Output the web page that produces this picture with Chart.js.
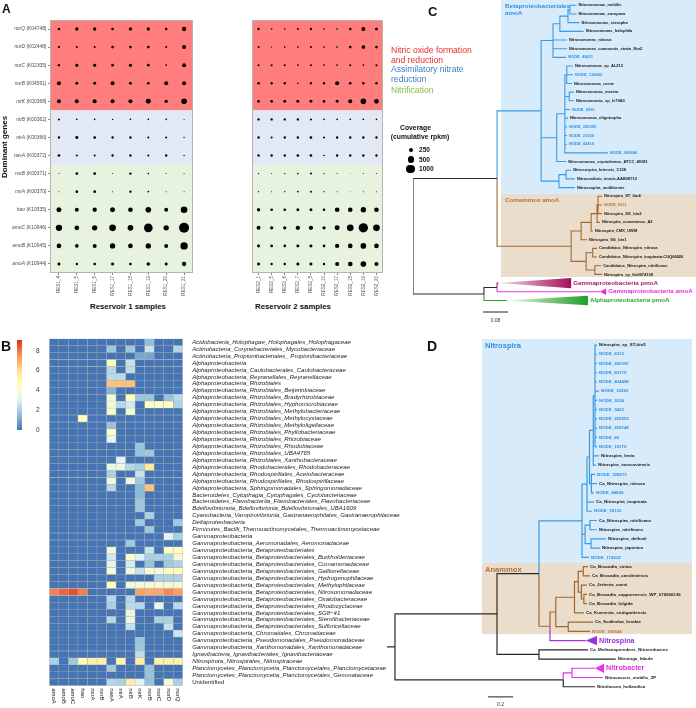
<!DOCTYPE html>
<html>
<head>
<meta charset="utf-8">
<title>Nitrogen cycling genes</title>
<script src="https://cdn.jsdelivr.net/npm/chart.js@4.4.1/dist/chart.umd.min.js"></script>
<style>
  html, body { margin: 0; background: #fff; }
  #fig { position: relative; width: 696px; height: 708px; overflow: hidden; font-family: "Liberation Sans", Arial, sans-serif; }
  #fig canvas { position: absolute; }
  .t { position: absolute; white-space: nowrap; line-height: 1; transform: translateY(-50%); color: #111; }
  .b { font-weight: bold; }
  .dot { position: absolute; background: #000; border-radius: 50%; }
</style>
</head>
<body>
<div id="fig">
  <canvas id="a1" width="198" height="300" style="left:0;top:0"></canvas>
  <canvas id="a2" width="192" height="300" style="left:198px;top:0"></canvas>
  <canvas id="heat" width="420" height="378" style="left:0;top:330px"></canvas>
  <canvas id="cbar" width="30" height="110" style="left:10px;top:330px"></canvas>
  <canvas id="treeC" width="296" height="330" style="left:400px;top:0"></canvas>
  <canvas id="treeD" width="316" height="378" style="left:380px;top:330px"></canvas>

  <div class="t b" style="left:2px;top:9px;font-size:12px">A</div>
  <div class="t b" style="left:1px;top:346px;font-size:14px">B</div>
  <div class="t b" style="left:428px;top:11px;font-size:13px">C</div>
  <div class="t b" style="left:427px;top:346px;font-size:14px">D</div>

  <div class="t b" style="left:5px;top:147px;font-size:8px;transform:translate(-50%,-50%) rotate(-90deg)">Dominant genes</div>
  <div class="t b" style="left:128px;top:307px;font-size:7.8px;transform:translate(-50%,-50%)">Reservoir 1 samples</div>
  <div class="t b" style="left:293px;top:307px;font-size:7.8px;transform:translate(-50%,-50%)">Reservoir 2 samples</div>

  <div class="t" style="left:391px;top:56px;font-size:8.6px;line-height:9.7px;color:#ee2b2b">Nitric oxide formation<br>and reduction</div>
  <div class="t" style="left:391px;top:75px;font-size:8.6px;line-height:9.7px;color:#3b7dc6">Assimilatory nitrate<br>reduction</div>
  <div class="t" style="left:391px;top:89.5px;font-size:8.6px;color:#86c241">Nitrification</div>

  <div class="t b" style="left:415.5px;top:128px;font-size:6.8px;transform:translate(-50%,-50%)">Coverage</div>
  <div class="t b" style="left:420px;top:137px;font-size:6.8px;transform:translate(-50%,-50%)">(cumulative rpkm)</div>
  <div id="covLegend"></div>
</div>
<script>
// ---- Panel A: dominant N-cycle genes, coverage per sample
const genes = ['norQ', 'norD', 'norC', 'norB', 'nirK', 'nirB', 'nirA', 'nasA', 'nxrB', 'nxrA', 'hao', 'amoC', 'amoB', 'amoA']
const keggIds = ['K04748', 'K02448', 'K02305', 'K04561', 'K00368', 'K00362', 'K00366', 'K00372', 'K00371', 'K00370', 'K10535', 'K10946', 'K10945', 'K10944']
const res1Samples = ['RES1_4', 'RES1_5', 'RES1_6', 'RES1_17', 'RES1_18', 'RES1_19', 'RES1_20', 'RES1_21']
const res2Samples = ['RES2_1', 'RES2_5', 'RES2_6', 'RES2_7', 'RES2_8', 'RES2_10', 'RES2_17', 'RES2_18', 'RES2_19', 'RES2_20']
// cumulative rpkm, one row per gene (same order as genes)
const res1Coverage = [
  [97, 152, 152, 97, 152, 152, 75, 257],
  [75, 55, 55, 97, 97, 97, 55, 219],
  [75, 123, 123, 97, 123, 97, 38, 219],
  [219, 123, 123, 219, 123, 97, 219, 219],
  [219, 219, 219, 219, 219, 342, 152, 439],
  [55, 38, 38, 24, 38, 38, 38, 14],
  [75, 123, 97, 75, 75, 55, 55, 24],
  [97, 55, 55, 75, 75, 55, 75, 24],
  [14, 97, 97, 14, 75, 38, 14, 14],
  [14, 97, 97, 14, 75, 38, 14, 14],
  [342, 219, 257, 342, 298, 439, 219, 608],
  [549, 298, 389, 608, 439, 1028, 389, 1368],
  [298, 184, 219, 389, 298, 389, 219, 736],
  [123, 75, 97, 123, 97, 184, 123, 257]
]
const res2Coverage = [
  [75, 38, 38, 55, 75, 38, 38, 75, 219, 123],
  [55, 24, 38, 38, 55, 38, 38, 97, 184, 97],
  [55, 55, 55, 38, 55, 38, 38, 55, 38, 55],
  [97, 75, 75, 38, 75, 75, 219, 97, 75, 75],
  [97, 97, 123, 123, 123, 97, 123, 219, 439, 298],
  [75, 75, 75, 75, 55, 38, 38, 38, 38, 38],
  [75, 55, 75, 75, 97, 55, 75, 75, 75, 75],
  [75, 75, 75, 97, 97, 38, 75, 75, 75, 75],
  [24, 14, 24, 38, 55, 24, 14, 6, 14, 14],
  [24, 14, 24, 38, 55, 24, 14, 6, 14, 14],
  [152, 97, 97, 123, 123, 97, 298, 298, 389, 298],
  [219, 152, 152, 257, 257, 152, 342, 608, 1190, 608],
  [123, 97, 97, 123, 123, 97, 257, 298, 439, 298],
  [123, 75, 75, 123, 123, 75, 219, 298, 439, 219]
]
const geneGroups = [
  { from: 0, to: 4, fill: '#ff7d7d' },
  { from: 5, to: 7, fill: '#e3e8f5' },
  { from: 8, to: 13, fill: '#e7f2df' }
]
const legendCoverage = [250, 500, 1000]

// ---- Panel B: heatmap of gene abundance per taxon
const genesB = ['amoA', 'amoB', 'amoC', 'hao', 'nxrA', 'nxrB', 'nasA', 'nirA', 'nirB', 'nirK', 'norB', 'norC', 'norD', 'norQ']
const taxa = [
  'Acidobacteria_Holophagae_Holophagales_Holophagaceae',
  'Actinobacteria_Corynebacteriales_Mycobacteriaceae',
  'Actinobacteria_Propionibacteriales_ Propionibacteriaceae',
  'Alphaproteobacteria',
  'Alphaproteobacteria_Caulobacterales_Caulobacteraceae',
  'Alphaproteobacteria_Reyranellales_Reyranellaceae',
  'Alphaproteobacteria_Rhizobiales',
  'Alphaproteobacteria_Rhizobiales_Beijerinkiaceae',
  'Alphaproteobacteria_Rhizobiales_Bradyrhizobiaceae',
  'Alphaproteobacteria_Rhizobiales_Hyphomicrobiaceae',
  'Alphaproteobacteria_Rhizobiales_Methylobacteriaceae',
  'Alphaproteobacteria_Rhizobiales_Methylocystaceae',
  'Alphaproteobacteria_Rhizobiales_Methyloligellaceae',
  'Alphaproteobacteria_Rhizobiales_Phyllobacteriaceae',
  'Alphaproteobacteria_Rhizobiales_Rhizobiaceae',
  'Alphaproteobacteria_Rhizobiales_Rhodobiaceae',
  'Alphaproteobacteria_Rhizobiales_UBA4765',
  'Alphaproteobacteria_Rhizobiales_Xanthobacteraceae',
  'Alphaproteobacteria_Rhodobacterales_Rhodobacteraceae',
  'Alphaproteobacteria_Rhodospirillales_Acetobacteraceae',
  'Alphaproteobacteria_Rhodospirillales_Rhodospirillaceae',
  'Alphaproteobacteria_Sphingomonadales_Sphingomonadaceae',
  'Bacteroidetes_Cytophagia_Cytophagales_Cyclobacteriaceae',
  'Bacteroidetes_Flavobacteriia_Flavobacteriales_Flavobacteriaceae',
  'Bdellovibrionota_Bdellovibrionia_Bdellovibrionales_UBA1609',
  'Cyanobacteria_Vampirovibrionia_Gastranaerophilales_Gastranaerophilaceae',
  'Deltaproteobacteria',
  'Firmicutes_Bacilli_Thermoactinomycetales_Thermoactinomycetaceae',
  'Gammaproteobacteria',
  'Gammaproteobacteria_Aeromonadales_Aeromonadaceae',
  'Gammaproteobacteria_Betaproteobacteriales',
  'Gammaproteobacteria_Betaproteobacteriales_Burkholderiaceae',
  'Gammaproteobacteria_Betaproteobacteriales_Comamonadaceae',
  'Gammaproteobacteria_Betaproteobacteriales_Gallionellaceae',
  'Gammaproteobacteria_Betaproteobacteriales_Hydrogenophilaceae',
  'Gammaproteobacteria_Betaproteobacteriales_Methylophilaceae',
  'Gammaproteobacteria_Betaproteobacteriales_Nitrosomonadaceae',
  'Gammaproteobacteria_Betaproteobacteriales_Oxalobacteraceae',
  'Gammaproteobacteria_Betaproteobacteriales_Rhodocyclaceae',
  'Gammaproteobacteria_Betaproteobacteriales_SG8\u221241',
  'Gammaproteobacteria_Betaproteobacteriales_Sterolibacteriaceae',
  'Gammaproteobacteria_Betaproteobacteriales_Sulfuricellaceae',
  'Gammaproteobacteria_Chromatiales_Chromatiaceae',
  'Gammaproteobacteria_Pseudomonadales_Pseudomonadaceae',
  'Gammaproteobacteria_Xanthomonadales_Xanthomonadaceae',
  'Ignavibacteria_Ignavibacteriales_Ignavibacteriaceae',
  'Nitrospirota_Nitrospirales_Nitrospiraceae',
  'Planctomycetes_Planctomycetia_Planctomycetales_Planctomycetaceae',
  'Planctomycetes_Planctomycetia_Planctomycetales_Gemmataceae',
  'Unidentified'
]
// one row per taxon, columns in genesB order
const heat = [
  [0,0,0,0,0,0,0,0,0,0,1.5,0,0,0],
  [0,0,0,0,0,0,1.8,0,1.8,0,2.6,0,0,2.2],
  [0,0,0,0,0,0,0,0,0,1.0,1.0,0,0,0],
  [0,0,0,0,0,0,4.7,0,2.5,0,0,0,0,0],
  [0,0,0,0,0,0,2.2,0,2.4,0,0,0,0,0],
  [0,0,0,0,0,0,2.3,2.3,0,0,0,0,0,0],
  [0,0,0,0,0,0,6.6,6.6,6.6,0,0,0,0,0],
  [0,0,0,0,0,0,1.3,0,0,0,0,0,0,0],
  [0,0,0,0,0,0,3.9,0,4.6,1.7,1.7,0,1.6,2.3],
  [0,0,0,0,0,0,3.8,2.2,2.7,0,4.4,4.4,4.6,2.1],
  [0,0,0,0,0,0,4.3,0,4.1,0,0,0,0,0],
  [0,0,0,4.6,0,0,0,0,0,0,0,0,0,0],
  [0,0,0,0,0,0,1.6,0,0,0,0,0,0,0],
  [0,0,0,0,0,0,4.4,0,0,0,0,0,0,0],
  [0,0,0,0,0,0,3.2,0,0,0,0,0,0,0],
  [0,0,0,0,0,0,0,0,0,1.7,0,0,0,0],
  [0,0,0,0,0,0,0,0,0,1.6,1.8,0,0,0],
  [0,0,0,0,0,0,0,3.1,0,0,0,0,0,0],
  [0,0,0,0,0,0,3.6,3.6,2.2,2.0,5.6,0,0,0],
  [0,0,0,0,0,0,2.0,0,0,2.5,0,0,0,0],
  [0,0,0,0,0,0,3.8,0,3.8,1.8,0,0,0,0],
  [0,0,0,0,0,0,2.2,0,0,1.4,6.6,0,0,0],
  [0,0,0,0,0,0,0,0,0,1.4,0,0,0,0],
  [0,0,0,0,0,0,0,0,0,1.8,0,0,0,0],
  [0,0,0,0,0,0,0,0,0,1.8,0,0,0,0],
  [0,0,0,0,0,0,0,0,0,0,2.0,0,0,0],
  [0,0,0,0,0,0,0,0,0,1.8,0,0,0,1.8],
  [0,0,0,0,0,0,0,0,0,0,1.8,0,0,0],
  [0,0,0,0,0,0,0,0,0,0,0,0,3.0,2.0],
  [0,0,0,0,0,0,0,0,1.8,0,0,0,0,0],
  [0,0,0,0,0,0,3.8,0,0,0,2.5,0,4.5,4.5],
  [0,0,0,0,0,0,2.7,0,4.3,3.0,2.0,2.0,2.0,4.0],
  [0,0,0,0,0,0,3.2,0,2.8,0,1.6,0,1.8,2.0],
  [0,0,0,0,0,0,4.2,0,3.7,2.5,4.0,3.8,4.3,4.6],
  [0,0,0,0,0,0,0,0,0,0,0,2.0,2.0,2.0],
  [0,0,0,0,0,0,4.6,0,3.7,4.0,4.0,4.2,3.8,4.2],
  [7.8,8.2,8.6,7.9,0,0,0,0,0,7.2,7.1,7.1,7.7,7.3],
  [0,0,0,0,0,0,2.2,0,2.2,0,0,0,0,0],
  [0,0,0,0,0,0,2.0,0,2.3,2.2,0,3.2,0,2.3],
  [0,0,0,0,0,0,0,0,3.7,0,0,0,0,0],
  [0,0,0,0,0,0,2.2,0,3.5,0,0,2.0,2.0,0],
  [0,0,0,0,0,0,0,0,2.5,0,0,0,2.5,0],
  [0,0,0,0,0,0,0,0,0,0,0,0,0,2.6],
  [0,0,0,0,0,0,0,0,0,1.7,0,0,0,0],
  [0,0,0,0,0,0,0,0,0,1.8,0,0,0,0],
  [0,0,0,0,0,0,0,0,0,2.4,0,0,0,0],
  [2.0,0,1.8,4.8,5.3,5.3,0,5.0,0,5.3,0,5.3,5.3,5.2],
  [0,0,0,0,0,0,1.8,0,0,0,1.6,0,0,0],
  [0,0,0,0,0,0,0,0,0,0,1.6,0,0,0],
  [0,0,0,0,0,0,2.2,2.0,5.5,3.0,1.6,0,4.0,2.0]
]
const heatStops = ['#4575b4', '#91bfdb', '#e0f3f8', '#ffffbf', '#fee090', '#fc8d59', '#d73027']
const heatMax = 9.1
const heatTicks = [0, 2, 4, 6, 8]

// ---- Panels C, D: trees. N(depth, branchColour, ...children), L(depth, name, branchColour, labelColour, collapsed)
// depth is distance from the root in units of 0.01 substitutions
const N = (d, col, ...c) => ({ d, col, c })
const L = (d, name, col = 'k', lab = 'k', tri = null) => ({ d, name, col, lab, tri })

const treeC = N(0, 'k',
  N(26.9, 'k',
    N(41, 'b',
      N(44.8, 'b',
        N(47, 'b',
          N(49.6, 'b',
            N(50.2, 'b', L(52.3, 'Nitrosomonas_mobilis', 'b'), L(52.3, 'Nitrosomonas_europaea', 'b')),
            L(53.3, 'Nitrosomonas_eutropha', 'b')),
          L(54.6, 'Nitrosomonas_halophila', 'b')),
        L(49.3, 'Nitrosomonas_nitrosa', 'b'),
        L(49.3, 'Nitrosomonas_communis_strain_Nm2', 'b'),
        L(49, 'NODE_49621', 'b', 'b')),
      N(46, 'b',
        N(48.6, 'b',
          N(49.2, 'b', L(51.2, 'Nitrosomonas_sp_AL212', 'b'), L(51.2, 'NODE_139662', 'b', 'b'), L(50.9, 'Nitrosomonas_ureae', 'b')),
          N(50, 'b', L(51.5, 'Nitrosomonas_marina', 'b'), L(51.5, 'Nitrosomonas_sp_Is79A3', 'b')),
          L(50.2, 'NODE_6910', 'b', 'b'),
          L(49.6, 'Nitrosomonas_oligotropha', 'b'),
          L(49.3, 'NODE_200390', 'b', 'b'),
          L(49.3, 'NODE_21034', 'b', 'b'),
          L(49.3, 'NODE_43416', 'b', 'b'),
          L(62.4, 'NODE_260686', 'b', 'b')),
        L(49, 'Nitrosomonas_cryotolerans_ATCC_49181', 'b')),
      N(46.7, 'b',
        N(49, 'b', L(50.6, 'Nitrosospira_briensis_C128', 'b'), L(51.8, 'Nitrosovibrio_tenuis-AAB38710', 'b')),
        L(51.8, 'Nitrosospira_multiformis', 'b'))),
    N(50.6, 'o',
      N(53.8, 'o',
        N(57, 'o',
          N(58.9, 'o',
            N(59.2, 'o', L(60.5, 'Nitrospira_ST_bin4', 'o'), L(60.5, 'NODE_6011', 'o', 'o'), L(60.5, 'Nitrospira_SG_bin2', 'o')),
            L(59.8, 'Nitrospira_comammox_A2', 'o')),
          L(57.6, 'Nitrospira_CMX_UWM', 'o')),
        L(55.7, 'Nitrospira_SG_bin1', 'o')),
      N(55.4, 'o',
        N(57.5, 'o', L(58.9, 'Candidatus_Nitrospira_nitrosa', 'o'), L(58.9, 'Candidatus_Nitrospira_inopinata:CUQ66826', 'o')),
        N(58.2, 'o', L(60.2, 'Candidatus_Nitrospira_nitrificans', 'o'), L(60.5, 'Nitrospira_sp_Ga0074138', 'o'))))),
  N(22.7, 'k',
    N(26.9, 'k',
      L(27.3, 'Gammaproteobacteria pmoA', 'm1', 'm1', { end: 50.6, h: 0.6, grad: ['#f6dde9', '#a0105a'] }),
      L(59.8, 'Gammaproteobacteria amoA', 'm', 'm', { end: 61.8, h: 0.38, grad: ['#ee22ee', '#ee22ee'] })),
    L(30, 'Alphaproteobacteria pmoA', 'g', 'g', { end: 56, h: 0.55, grad: ['#e6f5e6', '#1f9e2a'] })))

const treeD = N(0, 'k',
  N(6.4, 'k',
    N(88, 'k',
      N(121.6, 'k',
        N(156, 'b',
          N(160, 'b',
            N(162, 'b',
              N(165, 'b',
                N(166.4, 'b',
                  L(168, 'Nitrospira_sp_ST-bin5', 'b'), L(168, 'NODE_6313', 'b', 'b'), L(168, 'NODE_260397', 'b', 'b'),
                  L(168, 'NODE_60179', 'b', 'b'), L(168, 'NODE_404498', 'b', 'b'), L(169.6, 'NODE_16282', 'b', 'b'),
                  L(168, 'NODE_3534', 'b', 'b'), L(168, 'NODE_3422', 'b', 'b'), L(168, 'NODE_255253', 'b', 'b'),
                  L(168, 'NODE_269148', 'b', 'b'), L(168, 'NODE_69', 'b', 'b'), L(168, 'NODE_19179', 'b', 'b')),
                L(169.6, 'Nitrospira_lenta', 'b'),
                L(167.2, 'Nitrospira_moscoviensis', 'b')),
              N(163.5, 'b', L(166.4, 'NODE_328673', 'b', 'b'), L(168, 'Ca_Nitrospira_nitrosa', 'b'), L(165.6, 'NODE_44828', 'b', 'b'))),
            L(165.6, 'Ca_Nitrospira_inopinata', 'b'),
            L(164, 'NODE_18132', 'b', 'b')),
          N(158.5, 'b',
            N(162.4, 'b', L(168, 'Ca_Nitrospira_nitrificans', 'b'), L(168, 'Nitrospira_nitrificans', 'b')),
            N(163.2, 'b', L(175.2, 'Nitrospira_defluvii', 'b'), L(170.4, 'Nitrospira_japonica', 'b'))),
          L(161.6, 'NODE_174022', 'b', 'b')),
        N(130.4, 'o',
          N(135, 'o',
            N(150, 'o',
              N(153, 'o',
                N(157, 'o', L(160.8, 'Ca_Brocadia_sinica', 'o'), L(162.4, 'Ca_Brocadia_caroliniensis', 'o')),
                N(155.5, 'o', L(160, 'Ca_Jettenia_caeni', 'o'),
                  N(157.5, 'o', L(160, 'Ca_Brocadia_sapporoensis_WP_070066136', 'o'), L(160, 'Ca_Brocadia_fulgida', 'o')))),
              L(157.6, 'Ca_Kuenenia_stuttgartiensis', 'o')),
            N(145, 'o', L(164.8, 'Ca_Scalindua_brodae', 'o'), L(162.4, 'NODE_189644', 'o', 'o'))),
          L(159, 'Nitrospina', 'p', 'p', { end: 168, h: 0.5, grad: ['#9b2fe3', '#9b2fe3'] }))),
      N(121.6, 'k', L(160.8, 'Ca_Methanoperedens_Nitroreducens'), L(183, 'Nitrotoga_fabula'))),
    N(141, 'k',
      N(148, 'm',
        L(166.4, 'Nitrobacter', 'm', 'm', { end: 173.6, h: 0.5, grad: ['#ee2ee8', '#ee2ee8'] }),
        L(172.8, 'Nitrococcus_mobilis_ZP', 'm')),
      L(166.4, 'Nitrolancea_hollandica'))))

const branchColors = { k: '#2a2a2a', b: '#3b9ae6', o: '#a5672d', g: '#2ca02c', m: '#e830e6', m1: '#b0186a', p: '#a330e0' }
const labelColors = { k: '#161616', b: '#2f8fe8', o: '#b8763a', g: '#35a135', m: '#e52ee0', m1: '#a3195b', p: '#9a2fe0' }

const FONT = '"Liberation Sans", Arial, sans-serif'
Chart.defaults.font.family = FONT
Chart.defaults.animation = false
Chart.defaults.plugins.legend.display = false
Chart.defaults.plugins.tooltip.enabled = false

const bubbleR = v => 0.135 * Math.sqrt(v)

// shaded function bands + panel border behind the bubbles
const bandPlugin = {
  id: 'bands',
  beforeDatasetsDraw(chart) {
    const { ctx, chartArea: a, scales: { y } } = chart
    const half = (y.getPixelForValue(genes[1]) - y.getPixelForValue(genes[0])) / 2
    ctx.save()
    geneGroups.forEach(g => {
      const top = y.getPixelForValue(genes[g.from]) - half
      const bottom = y.getPixelForValue(genes[g.to]) + half
      ctx.fillStyle = g.fill
      ctx.fillRect(a.left, top, a.right - a.left, bottom - top)
    })
    ctx.strokeStyle = '#b3b3b3'
    ctx.lineWidth = 1
    ctx.strokeRect(a.left + 0.5, a.top + 0.5, a.right - a.left - 1, a.bottom - a.top - 1)
    ctx.restore()
  }
}

// gene name in italics, KEGG id upright
const geneLabelPlugin = {
  id: 'geneLabels',
  afterDraw(chart) {
    const { ctx, chartArea: a, scales: { y } } = chart
    ctx.save()
    ctx.textBaseline = 'middle'
    ctx.textAlign = 'right'
    ctx.fillStyle = '#4a4a4a'
    genes.forEach((g, i) => {
      const py = y.getPixelForValue(g)
      const code = ` (${keggIds[i]})`
      ctx.font = `4.9px ${FONT}`
      const w = ctx.measureText(code).width
      const right = a.left - 3.5
      ctx.fillText(code, right, py)
      ctx.font = `italic 4.9px ${FONT}`
      ctx.fillText(g, right - w, py)
    })
    ctx.restore()
  }
}

function makeFacet(id, samples, cov, showY, padding) {
  const data = genes.flatMap((g, i) => samples.map((s, j) => ({ x: s, y: g, r: bubbleR(cov[i][j]) })))
  return new Chart(document.getElementById(id), {
    type: 'bubble',
    data: { datasets: [{ data, backgroundColor: '#000', borderWidth: 0 }] },
    options: {
      responsive: false,
      devicePixelRatio: 1,
      layout: { padding },
      scales: {
        x: {
          type: 'category', labels: samples, offset: true,
          grid: { display: true, drawOnChartArea: false, tickLength: 2, color: '#888' },
          border: { display: false },
          ticks: { minRotation: 90, maxRotation: 90, padding: 1, color: '#555', font: { size: 4.6 } },
          afterFit: s => { s.height = 27 }
        },
        y: {
          type: 'category', labels: genes, offset: true, display: showY,
          grid: { display: true, drawOnChartArea: false, tickLength: 2, color: '#888' },
          border: { display: false },
          ticks: { display: false },
          afterFit: s => { s.width = 50 }
        }
      }
    },
    plugins: showY ? [bandPlugin, geneLabelPlugin] : [bandPlugin]
  })
}

makeFacet('a1', res1Samples, res1Coverage, true, { left: 0, right: 3, top: 20, bottom: 0 })
makeFacet('a2', res2Samples, res2Coverage, false, { left: 4, right: 7, top: 20, bottom: 0 })

// coverage size legend (same radius function as the bubbles)
const covLegend = document.getElementById('covLegend')
legendCoverage.forEach((v, i) => {
  const r = bubbleR(v)
  const cy = 150 + i * 9.5
  const dot = document.createElement('div')
  dot.className = 'dot'
  dot.style.cssText = `left:${410.7 - r}px;top:${cy - r}px;width:${2 * r}px;height:${2 * r}px`
  covLegend.appendChild(dot)
  const t = document.createElement('div')
  t.className = 't b'
  t.style.cssText = `left:419px;top:${cy}px;font-size:6.6px`
  t.textContent = v
  covLegend.appendChild(t)
})

// ---- heatmap
const hex = h => [1, 3, 5].map(i => parseInt(h.slice(i, i + 2), 16))
function heatColor(v) {
  const t = Math.max(0, Math.min(1, v / heatMax)) * (heatStops.length - 1)
  const i = Math.min(Math.floor(t), heatStops.length - 2), f = t - i
  const a = hex(heatStops[i]), b = hex(heatStops[i + 1])
  return `rgb(${a.map((c, k) => Math.round(c + (b[k] - c) * f)).join(',')})`
}

const geneAxisPlugin = {
  id: 'geneAxis',
  afterDraw(chart) {
    const { ctx, chartArea: a, scales: { x } } = chart
    ctx.save()
    ctx.font = `6px ${FONT}`
    ctx.fillStyle = '#222'
    ctx.textBaseline = 'middle'
    ctx.textAlign = 'left'
    genesB.forEach((g, j) => {
      ctx.save()
      ctx.translate(x.getPixelForValue(j + 0.5), a.bottom + 2.5)
      ctx.rotate(Math.PI / 2)
      ctx.fillText(g, 0, 0)
      ctx.restore()
    })
    ctx.restore()
  }
}

new Chart(document.getElementById('heat'), {
  type: 'bar',
  data: {
    labels: taxa,
    datasets: genesB.map((g, j) => ({
      label: g,
      data: taxa.map(() => 1),
      backgroundColor: taxa.map((t, i) => heatColor(heat[i][j])),
      borderColor: 'rgba(160,160,160,0.75)',
      borderWidth: 0.5,
      borderSkipped: false,
      barPercentage: 1,
      categoryPercentage: 1
    }))
  },
  options: {
    indexAxis: 'y',
    responsive: false,
    devicePixelRatio: 1,
    layout: { padding: { left: 49.3, top: 8.7, bottom: 22.3 } },
    scales: {
      x: { stacked: true, min: 0, max: genesB.length, display: false },
      y: {
        stacked: true, position: 'right',
        grid: { display: false }, border: { display: false },
        ticks: {
          autoSkip: false, padding: 1.5, color: '#1e1e1e',
          font: c => ({ size: 6.05, style: taxa[c.index] === 'Unidentified' ? 'normal' : 'italic' })
        },
        afterFit: s => { s.width = 237.3 }
      }
    }
  },
  plugins: [geneAxisPlugin]
})

// colour key
new Chart(document.getElementById('cbar'), {
  type: 'bar',
  data: {
    labels: [''],
    datasets: [{
      data: [[0, heatMax]],
      barPercentage: 1, categoryPercentage: 1,
      backgroundColor: c => {
        const a = c.chart.chartArea
        if (!a) return heatStops[0]
        const g = c.chart.ctx.createLinearGradient(0, a.bottom, 0, a.top)
        heatStops.forEach((s, i) => g.addColorStop(i / (heatStops.length - 1), s))
        return g
      }
    }]
  },
  options: {
    responsive: false,
    devicePixelRatio: 1,
    layout: { padding: { left: 7, top: 9, bottom: 7 } },
    scales: {
      x: { display: false },
      y: {
        position: 'right', min: 0, max: heatMax,
        grid: { display: false }, border: { display: false },
        afterBuildTicks: s => { s.ticks = heatTicks.map(v => ({ value: v })) },
        ticks: { padding: 6, color: '#333', font: { size: 6.5 } },
        afterFit: s => { s.width = 18 }
      }
    }
  }
})

// ---- trees
function layoutTree(root) {
  let k = 0
  const leaves = []
  const walk = n => {
    if (!n.c) { n.y = k++; leaves.push(n); return }
    n.c.forEach(walk)
    n.y = (n.c[0].y + n.c[n.c.length - 1].y) / 2
  }
  walk(root)
  return leaves
}

function branchSegments(root) {
  const segs = {}
  const walk = n => {
    (n.c || []).forEach(ch => {
      (segs[ch.col] = segs[ch.col] || []).push(
        { x: n.d, y: n.y }, { x: n.d, y: ch.y }, { x: ch.d, y: ch.y }, { x: NaN, y: NaN })
      walk(ch)
    })
  }
  walk(root)
  return segs
}

function treePlugin(info, leaves) {
  return {
    id: 'tree',
    beforeDatasetsDraw(chart) {
      const { ctx, chartArea: a, scales: { x, y } } = chart
      ctx.save()
      info.boxes.forEach(b => {
        const x0 = x.getPixelForValue(b.x)
        const x1 = b.right ? x.getPixelForValue(b.right) : a.right
        const y0 = y.getPixelForValue(b.from), y1 = y.getPixelForValue(b.to)
        ctx.fillStyle = b.fill
        ctx.fillRect(x0, y0, x1 - x0, y1 - y0)
        ctx.fillStyle = b.color
        ctx.font = info.boxFont
        ctx.textBaseline = 'middle'
        b.label.forEach((t, i) => ctx.fillText(t, x0 + info.boxDx, y0 + info.boxPad + i * 7))
      })
      ctx.restore()
    },
    afterDatasetsDraw(chart) {
      const { ctx, scales: { x, y } } = chart
      ctx.save()
      ctx.textBaseline = 'middle'
      leaves.forEach(l => {
        const yc = y.getPixelForValue(l.y)
        let tx = x.getPixelForValue(l.d) + 2
        if (l.tri) {
          const xa = x.getPixelForValue(l.d), xb = x.getPixelForValue(l.tri.end)
          const hh = Math.abs(y.getPixelForValue(l.y + l.tri.h) - yc)
          const g = ctx.createLinearGradient(xa, 0, xb, 0)
          g.addColorStop(0, l.tri.grad[0])
          g.addColorStop(1, l.tri.grad[1])
          ctx.beginPath()
          ctx.moveTo(xa, yc)
          ctx.lineTo(xb, yc - hh)
          ctx.lineTo(xb, yc + hh)
          ctx.closePath()
          ctx.fillStyle = g
          ctx.fill()
          tx = xb + 2
          ctx.font = info.triFont
        } else {
          ctx.font = info.leafFont
        }
        ctx.fillStyle = labelColors[l.lab]
        ctx.fillText(l.name, tx, yc)
      })
      const sb = info.scaleBar
      ctx.font = `5px ${FONT}`
      ctx.fillStyle = '#333'
      ctx.textAlign = 'center'
      ctx.fillText(sb.label, x.getPixelForValue((sb.x0 + sb.x1) / 2), y.getPixelForValue(sb.ly))
      ctx.restore()
    }
  }
}

function makeTree(id, root, info) {
  const leaves = layoutTree(root)
  const segs = branchSegments(root)
  const datasets = Object.entries(segs).map(([col, pts]) => ({
    data: pts, showLine: true, spanGaps: false, pointRadius: 0,
    borderColor: branchColors[col], borderWidth: info.lineWidth
  }))
  const sb = info.scaleBar
  datasets.push({ data: [{ x: sb.x0, y: sb.y }, { x: sb.x1, y: sb.y }], showLine: true, pointRadius: 0, borderColor: '#222', borderWidth: 1 })
  return new Chart(document.getElementById(id), {
    type: 'scatter',
    data: { datasets },
    options: {
      responsive: false,
      devicePixelRatio: 1,
      layout: { padding: info.padding },
      scales: {
        x: { type: 'linear', min: 0, max: info.xMax, display: false },
        y: { type: 'linear', min: info.yMin, max: info.yMax, reverse: true, display: false }
      }
    },
    plugins: [treePlugin(info, leaves)]
  })
}

makeTree('treeC', treeC, {
  padding: { left: 13, right: 0, top: 0, bottom: 3.5 },
  xMax: 90.56, yMin: -0.61, yMax: 37,
  lineWidth: 1.1,
  leafFont: `bold 4px ${FONT}`,
  triFont: `bold 6.2px ${FONT}`,
  boxFont: `bold 6.2px ${FONT}`, boxDx: 4, boxPad: 6,
  boxes: [
    { x: 28.16, from: -0.61, to: 21.74, fill: '#d7ebfa', color: '#2f8fe8', label: ['Betaproteobacteriales', 'amoA'] },
    { x: 28.16, from: 21.74, to: 31.3, fill: '#ebddcb', color: '#b0703a', label: ['Comammox amoA'] }
  ],
  scaleBar: { x0: 22.4, x1: 30.4, y: 35.33, label: '0.08', ly: 36.3 }
})

makeTree('treeD', treeD, {
  padding: { left: 7, right: 0, top: 5.8, bottom: 2.8 },
  xMax: 247.2, yMin: -1, yMax: 39,
  lineWidth: 1.2,
  leafFont: `bold 4.4px ${FONT}`,
  triFont: `bold 7.2px ${FONT}`,
  boxFont: `bold 7.6px ${FONT}`, boxDx: 3, boxPad: 7,
  boxes: [
    { x: 76, right: 244, from: -0.65, to: 23.6, fill: '#d7ebfa', color: '#2f8fe8', label: ['Nitrospira'] },
    { x: 76, right: 244, from: 23.6, to: 31.3, fill: '#ebddcb', color: '#b0703a', label: ['Anammox'] }
  ],
  scaleBar: { x0: 80.8, x1: 100.8, y: 38.1, label: '0.2', ly: 38.95 }
})
</script>
</body>
</html>
